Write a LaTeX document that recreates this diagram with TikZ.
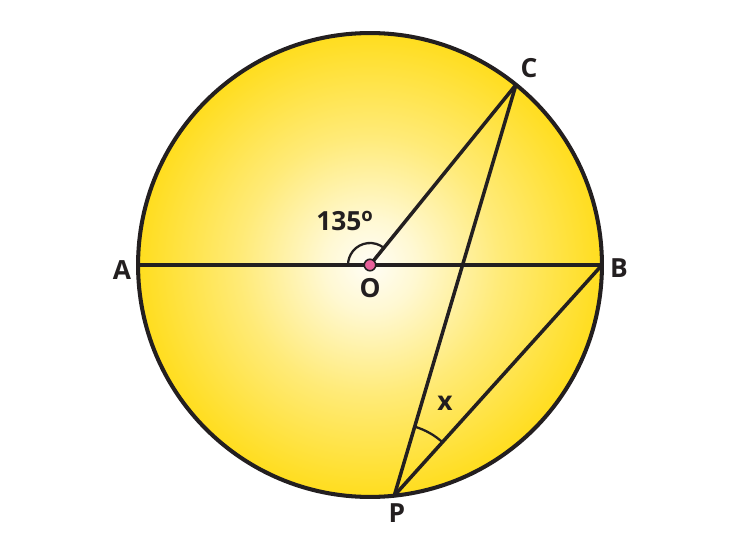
\documentclass[tikz,border=0pt]{standalone}
\usepackage{fontspec}
\setmainfont{Open Sans}
\usetikzlibrary{angles,calc}
\definecolor{sunY}{RGB}{255,221,30}
\definecolor{ink}{RGB}{35,31,32}
\definecolor{dotpink}{RGB}{232,96,154}
\pgfdeclareradialshading{sun}{\pgfpoint{0bp}{0bp}}{color(0bp)=(white!96!sunY); color(5bp)=(white!80!sunY); color(14bp)=(white!40!sunY); color(25bp)=(sunY); color(50bp)=(sunY)}
\tikzset{
  seg/.style={draw=ink, line width=2pt, line cap=round},
  lbl/.style={font=\fontsize{15}{17}\selectfont\bfseries, text=ink, inner sep=0pt},
  angmark/.style={draw=ink, line width=1.3pt}
}
\begin{document}
\begin{tikzpicture}[x=0.02cm, y=0.02cm]
\useasboundingbox (0,0) rectangle (750,538);
\coordinate (O) at (370,273);
\coordinate (A) at (138,273);
\coordinate (B) at (602,273);
\coordinate (C) at ($(O)+(51:4.64cm)$);
\coordinate (P) at ($(O)+(-84:4.64cm)$);
\shade[shading=sun] (O) circle[radius=4.64cm];
\draw[seg] (A) -- (B);
\draw[seg] (O) -- (C);
\draw[seg] (C) -- (P);
\draw[seg] (P) -- (B);
\pic[angmark, angle radius=0.44cm] {angle = C--O--A};
\pic[angmark, angle radius=1.44cm] {angle = B--P--C};
\draw[draw=ink, line width=2.3pt] (O) circle[radius=4.64cm];
\node[circle, fill=dotpink, draw=ink, line width=0.9pt, minimum size=0.23cm, inner sep=0pt] (Odot) at (O) {};
\node[lbl] (lA) at (122,268) {A};
\node[lbl] (lB) at (619,270) {B};
\node[lbl] (lC) at (529,470) {C};
\node[lbl] (lO) at (370,250) {O};
\node[lbl] (lP) at (397,25) {P};
\node[lbl] (l135) at (345,317) {135\textsuperscript{o}};
\node[lbl, font=\fontsize{15}{17}\selectfont\bfseries] (lx) at (445,135) {x};
\end{tikzpicture}
\end{document}
